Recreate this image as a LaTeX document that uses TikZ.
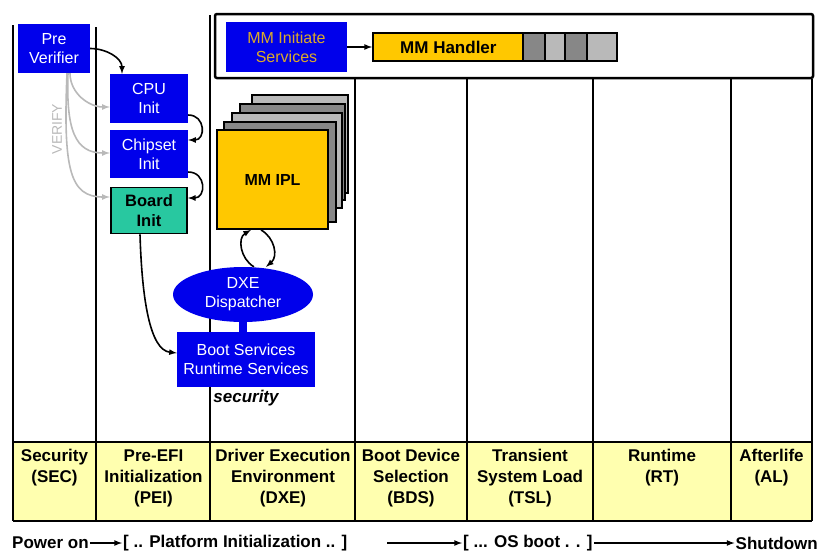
\documentclass[tikz,border=0pt]{standalone}
\usepackage{fontspec}
\setmainfont{Liberation Sans}
\usetikzlibrary{arrows}
\usetikzlibrary{positioning}
\usetikzlibrary{shapes.geometric}
\definecolor{efiblue}{RGB}{0,0,235}
\definecolor{efigold}{RGB}{255,200,0}
\definecolor{efiteal}{RGB}{40,200,160}
\definecolor{efipale}{RGB}{255,255,175}
\definecolor{efiorange}{RGB}{220,170,40}
\definecolor{efidark}{RGB}{135,135,135}
\definecolor{efilight}{RGB}{185,185,185}
\tikzset{
  bluebox/.style={fill=efiblue,text=white,align=center,inner sep=1pt,font=\fontsize{16}{19}\selectfont},
  phase/.style={anchor=north,align=center,font=\bfseries\fontsize{17}{21}\selectfont},
  timeline/.style={font=\bfseries\fontsize{17}{20}\selectfont,inner sep=1pt},
  colline/.style={line width=1.2pt},
  boldline/.style={line width=2.2pt},
  flow/.style={-latex,line width=1.6pt},
  verify/.style={-latex,line width=1.6pt,efilight}
}
\begin{document}
\begin{tikzpicture}[x=1pt,y=-1pt]
  \useasboundingbox (0,0) rectangle (819,552);
  \fill[efipale] (13,442) rectangle (812,521);

  \draw[line width=2.5pt,rounded corners=2pt] (215,14) rectangle (813,78);
  \draw[colline] (13,25)--(13,521);
  \draw[colline] (96,27)--(96,521);
  \draw[colline] (210,15)--(210,521);
  \draw[colline] (355,79)--(355,521);
  \draw[boldline] (467,79)--(467,521);
  \draw[boldline] (593,79)--(593,521);
  \draw[boldline] (731,79)--(731,521);
  \draw[colline] (812,79)--(812,521);
  \draw[boldline] (13,442)--(812,442);
  \draw[boldline] (13,521)--(812,521);

  \node[phase] (sec) at (54.5,446) {Security\\(SEC)};
  \node[phase] (pei) at (153.5,446) {Pre-EFI\\Initialization\\(PEI)};
  \node[phase] (dxe) at (283,446) {Driver Execution\\Environment\\(DXE)};
  \node[phase] (bds) at (411,446) {Boot Device\\Selection\\(BDS)};
  \node[phase] (tsl) at (530,446) {Transient\\System Load\\(TSL)};
  \node[phase] (rt) at (662,446) {Runtime\\(RT)};
  \node[phase] (al) at (771.5,446) {Afterlife\\(AL)};

  \node[bluebox,minimum width=72pt,minimum height=49pt] (pv) at (54,48.5) {Pre\\Verifier};
  \node[bluebox,minimum width=78pt,minimum height=49pt] (cpu) at (149,98.5) {CPU\\Init};
  \node[bluebox,minimum width=78pt,minimum height=48pt,below=7pt of cpu] (chip) {Chipset\\Init};
  \node[draw,line width=1.8pt,fill=efiteal,align=center,font=\bfseries\fontsize{16.5}{20}\selectfont,
    inner sep=0pt,minimum width=76pt,minimum height=46pt,below=8pt of chip] (board) {Board\\Init};

  \node[bluebox,text=efiorange,minimum width=121pt,minimum height=50pt] (mmis) at (286.5,47) {MM Initiate\\Services};
  \node[draw,line width=1.8pt,fill=efigold,anchor=west,minimum width=151pt,minimum height=28pt,
    font=\bfseries\fontsize{17}{19}\selectfont,inner sep=0pt] (mmh) at (372,47) {MM Handler};
  \foreach \xa/\xb/\c in {523/545/efidark,545/565/efilight,565/587/efidark,587/617/efilight}
    \draw[line width=1.8pt,fill=\c] (\xa,33) rectangle (\xb,61);

  \foreach \xa/\ya/\xb/\yb/\c in {252/95/348/193/efilight,240/104/345/200/efidark,
    232/113/342/208/efilight,224/122/336/222/efidark}
    \draw[line width=1.5pt,fill=\c] (\xa,\ya) rectangle (\xb,\yb);
  \node[draw,line width=1.8pt,fill=efigold,minimum width=111pt,minimum height=99pt,
    font=\bfseries\fontsize{16}{18}\selectfont] (ipl) at (272.5,179.5) {MM IPL};

  \node[ellipse,fill=efiblue,text=white,align=center,inner sep=0pt,minimum width=140pt,minimum height=55pt,
    font=\fontsize{16}{19}\selectfont] (disp) at (243,294.5) {DXE\\Dispatcher};
  \node[bluebox,minimum width=138pt,minimum height=55pt] (bsrs) at (246,359.5) {Boot Services\\Runtime Services};
  \node[font=\bfseries\itshape\fontsize{17}{19}\selectfont,inner sep=0pt,below=3pt of bsrs] (secty) {security};
  \draw[line width=8pt,efiblue] (disp.south)--(disp.south|-bsrs.north);

  \draw[flow] (pv.east) to[out=0,in=90] (cpu.north west -| 122,0);
  \draw[flow] (cpu.east|-0,115) to[out=0,in=0,looseness=1.8] (chip.east|-0,140);
  \draw[flow] (chip.east|-0,172) to[out=0,in=0,looseness=1.8] (board.east|-0,198);
  \draw[verify] (pv.south-|70,0) to[out=-90,in=180] (cpu.west|-0,107);
  \draw[verify] (pv.south-|68,0) .. controls (66,130) and (75,153) .. (cpu.west|-0,153);
  \draw[verify] (pv.south-|67,0) .. controls (63,170) and (70,197) .. (cpu.west|-0,197);
  \node[text=efilight,rotate=90,font=\fontsize{14}{16}\selectfont,inner sep=0pt] (vlbl) at (57,129) {VERIFY};

  \draw[flow] (mmis.east) -- (mmh.west);
  \draw[flow] (board.south-|140,0) .. controls (142,300) and (150,350) .. (bsrs.west|-0,353);
  \draw[flow] (disp.north-|254,0) to[out=150,in=-150,looseness=1.1] (ipl.south-|251,0);
  \draw[flow] (ipl.south-|261,0) to[out=-30,in=40,looseness=1.1] (disp.north-|266,0);

  \node[timeline,anchor=west] (pwr) at (11,543) {Power on};
  \node[timeline,anchor=west] (plat) at (122,543) {[ .. Platform Initialization .. ]};
  \draw[flow] (pwr.east)--(plat.west);
  \node[timeline,anchor=west] (osb) at (462,543) {[ ... OS boot . . ]};
  \node[timeline,anchor=east] (shut) at (819,543) {Shutdown};
  \coordinate (gap) at (387,543);
  \draw[flow] (gap)--(osb.west);
  \draw[flow] (osb.east)--(shut.west);
\end{tikzpicture}
\end{document}
